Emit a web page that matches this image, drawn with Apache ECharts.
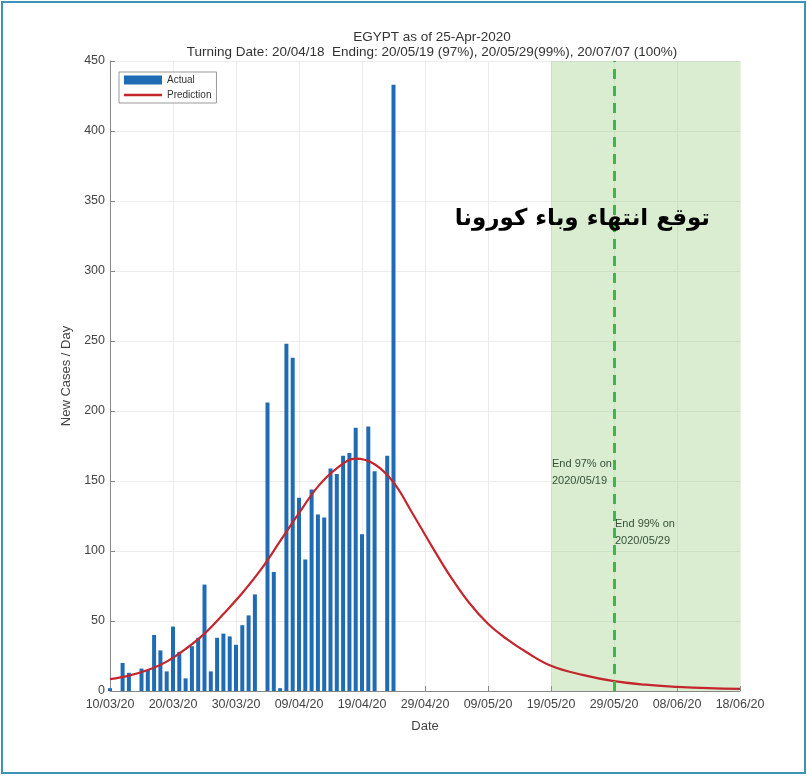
<!DOCTYPE html>
<html>
<head>
<meta charset="utf-8">
<script src="https://cdn.jsdelivr.net/npm/echarts@6/dist/echarts.min.js"></script>
<style>
  html, body { margin: 0; padding: 0; background: #fff; }
  .frame {
    position: absolute; left: 1px; top: 1px;
    width: 801px; height: 769px;
    border: 2px solid #3b93b6;
  }
  #chart { width: 801px; height: 769px; }
</style>
</head>
<body>
<div class="frame"><div id="chart"></div></div>
<script>
// day index 0 = 10/03/2020
const tickLabels = ['10/03/20', '20/03/20', '30/03/20', '09/04/20', '19/04/20', '29/04/20',
  '09/05/20', '19/05/20', '29/05/20', '08/06/20', '18/06/20'];

// actual new cases per day, from 10/03 onwards
const actualCases = [2, 0, 20, 13, 0, 16, 15, 40, 29, 14, 46, 28, 9, 32, 38, 76, 14, 38, 41, 39,
  33, 47, 54, 69, 0, 206, 85, 2, 248, 238, 138, 94, 144, 126, 124, 159, 155, 168, 170, 188,
  112, 189, 157, 0, 168, 433];

// prediction curve samples (day index, value)
const predDays = [0, 3, 6, 9, 12, 15, 18, 21, 24, 27, 30, 33, 36, 39, 42, 45, 48, 51, 54, 57,
  60, 63, 66, 70, 75, 80, 85, 90, 95, 100];
const predValues = [8.5, 11, 15, 21, 30, 41, 55, 70, 87, 107, 127, 146, 159, 166, 162, 149, 127, 104, 82, 63,
  48, 37, 28, 18, 11.5, 7, 4.5, 3, 2, 1.5];

const end97Day = 70;
const end99Day = 80;

const chart = echarts.init(document.getElementById('chart'));

const font = 'Liberation Sans, Arial, sans-serif';

chart.setOption({
  animation: false,
  textStyle: { fontFamily: font },
  title: {
    text: 'EGYPT as of 25-Apr-2020',
    subtext: 'Turning Date: 20/04/18  Ending: 20/05/19 (97%), 20/05/29(99%), 20/07/07 (100%)',
    left: 424,
    top: 22,
    textAlign: 'center',
    itemGap: 1,
    textStyle: { fontSize: 13.5, fontWeight: 'normal', color: '#333', fontFamily: font },
    subtextStyle: { fontSize: 13.5, color: '#333', fontFamily: font }
  },
  legend: {
    left: 116,
    top: 69,
    orient: 'vertical',
    itemWidth: 38,
    itemHeight: 9,
    itemGap: 5,
    padding: [3, 5, 3, 5],
    borderColor: '#999',
    borderWidth: 1,
    backgroundColor: '#fff',
    textStyle: { fontSize: 10, color: '#333', fontFamily: font },
    data: [
      { name: 'Actual', icon: 'rect' },
      { name: 'Prediction', icon: 'path://M0,0 L40,0 L40,2.4 L0,2.4 Z' }
    ]
  },
  grid: {
    left: 107,
    top: 58,
    width: 630,
    height: 630
  },
  xAxis: {
    type: 'value',
    min: 0,
    max: 100,
    interval: 10,
    name: 'Date',
    nameLocation: 'middle',
    nameGap: 29,
    nameTextStyle: { fontSize: 13, color: '#444' },
    axisLine: { show: true, onZero: false, lineStyle: { color: '#888' } },
    axisTick: { show: true, inside: true, lineStyle: { color: '#888' } },
    axisLabel: {
      fontSize: 12.5,
      color: '#444',
      margin: 7,
      formatter: (v) => tickLabels[Math.round(v / 10)] || ''
    },
    splitLine: { show: true, lineStyle: { color: '#ececec' } }
  },
  yAxis: {
    type: 'value',
    min: 0,
    max: 450,
    interval: 50,
    name: 'New Cases / Day',
    nameLocation: 'middle',
    nameGap: 30,
    nameTextStyle: { fontSize: 13, color: '#444' },
    axisLine: { show: true, lineStyle: { color: '#888' } },
    axisTick: { show: true, inside: true, lineStyle: { color: '#888' } },
    axisLabel: { fontSize: 12.5, color: '#444', margin: 5 },
    splitLine: { show: true, lineStyle: { color: '#ececec' } }
  },
  series: [
    {
      name: 'Actual',
      type: 'bar',
      barWidth: 4,
      itemStyle: { color: '#1f6cb4' },
      data: actualCases.map((v, i) => [i, v]),
      z: 3
    },
    {
      name: 'Prediction',
      type: 'line',
      smooth: 0.4,
      symbol: 'none',
      lineStyle: { color: '#c4262e', width: 2.2 },
      itemStyle: { color: '#c4262e' },
      data: predDays.map((d, i) => [d, predValues[i]]),
      z: 4,
      markArea: {
        silent: true,
        itemStyle: { color: 'rgba(140, 200, 110, 0.32)' },
        data: [[{ xAxis: end97Day }, { xAxis: 100 }]]
      },
      markLine: {
        silent: true,
        symbol: 'none',
        label: { show: false },
        lineStyle: { color: '#3cb84a', type: [10, 7], width: 3 },
        data: [{ xAxis: end99Day }]
      },
      markPoint: {
        symbol: 'circle',
        symbolSize: 0,
        silent: true,
        label: {
          show: true,
          position: 'right',
          distance: 1,
          align: 'left',
          fontSize: 11,
          lineHeight: 17,
          color: '#34503a',
          fontFamily: font
        },
        data: [
          { coord: [end97Day, 156], label: { formatter: 'End 97% on\n2020/05/19' } },
          { coord: [end99Day, 113], label: { formatter: 'End 99% on\n2020/05/29' } }
        ]
      }
    }
  ],
  graphic: [
    {
      type: 'text',
      right: 94,
      top: 205,
      z: 100,
      style: {
        text: 'توقع انتهاء وباء كورونا',
        font: 'bold 23px "DejaVu Sans", sans-serif',
        fill: '#000'
      }
    }
  ]
});
</script>
</body>
</html>
